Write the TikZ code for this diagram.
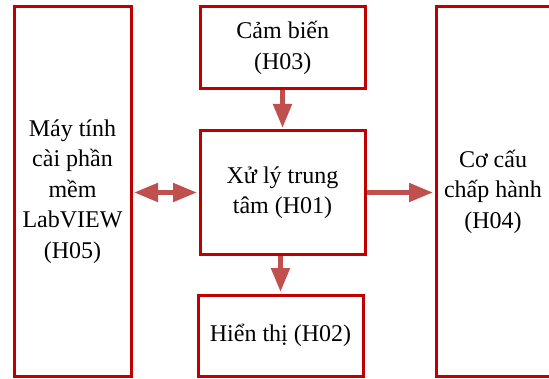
\documentclass[tikz,border=0pt]{standalone}
\usepackage{fontspec}
\setmainfont{Liberation Serif}
\usetikzlibrary{arrows.meta}
\definecolor{boxred}{HTML}{C00000}
\definecolor{arrowred}{HTML}{C0504D}
\tikzset{
  block/.style={draw=boxred, line width=3pt, align=center, inner sep=0pt,
    font=\fontsize{24}{30.5}\selectfont},
  flow/.style={draw=arrowred, line width=5pt, shorten >=1.5pt},
  >={Triangle[width=18pt,length=24pt]}
}
\begin{document}
\begin{tikzpicture}[x=1pt, y=1pt]
\useasboundingbox (0, 0) rectangle (549, 378);
\node [block, minimum width=117pt, minimum height=370pt] (maytinh) at (72.5, 186.5)
  {Máy tính\\cài phần\\mềm\\LabVIEW\\(H05)};
\node [block, minimum width=164.5pt, minimum height=82.5pt] (cambien) at (282.75, 330.25)
  {Cảm biến\\(H03)};
\node [block, minimum width=165pt, minimum height=123pt] (xuly) at (282.5, 185.5)
  {Xử lý trung\\tâm (H01)};
\node [block, minimum width=165pt, minimum height=81.5pt] (hienthi) at (280.5, 42.25)
  {Hiển thị (H02)};
\node [block, minimum width=120pt, minimum height=370pt] (cocau) at (496, 186.5)
  {\hspace*{-6pt}Cơ cấu\\\hspace*{-6pt}chấp hành\\\hspace*{-6pt}(H04)};
\draw [flow, ->] (cambien.south -| xuly.north) -- (xuly.north);
\draw [flow, ->] (xuly.south -| hienthi.north) -- (hienthi.north);
\draw [flow, ->] (xuly.east) -- (xuly.east -| cocau.west);
\draw [flow, <->, shorten <=1.5pt] (maytinh.east |- xuly.west) -- (xuly.west);
\end{tikzpicture}
\end{document}
